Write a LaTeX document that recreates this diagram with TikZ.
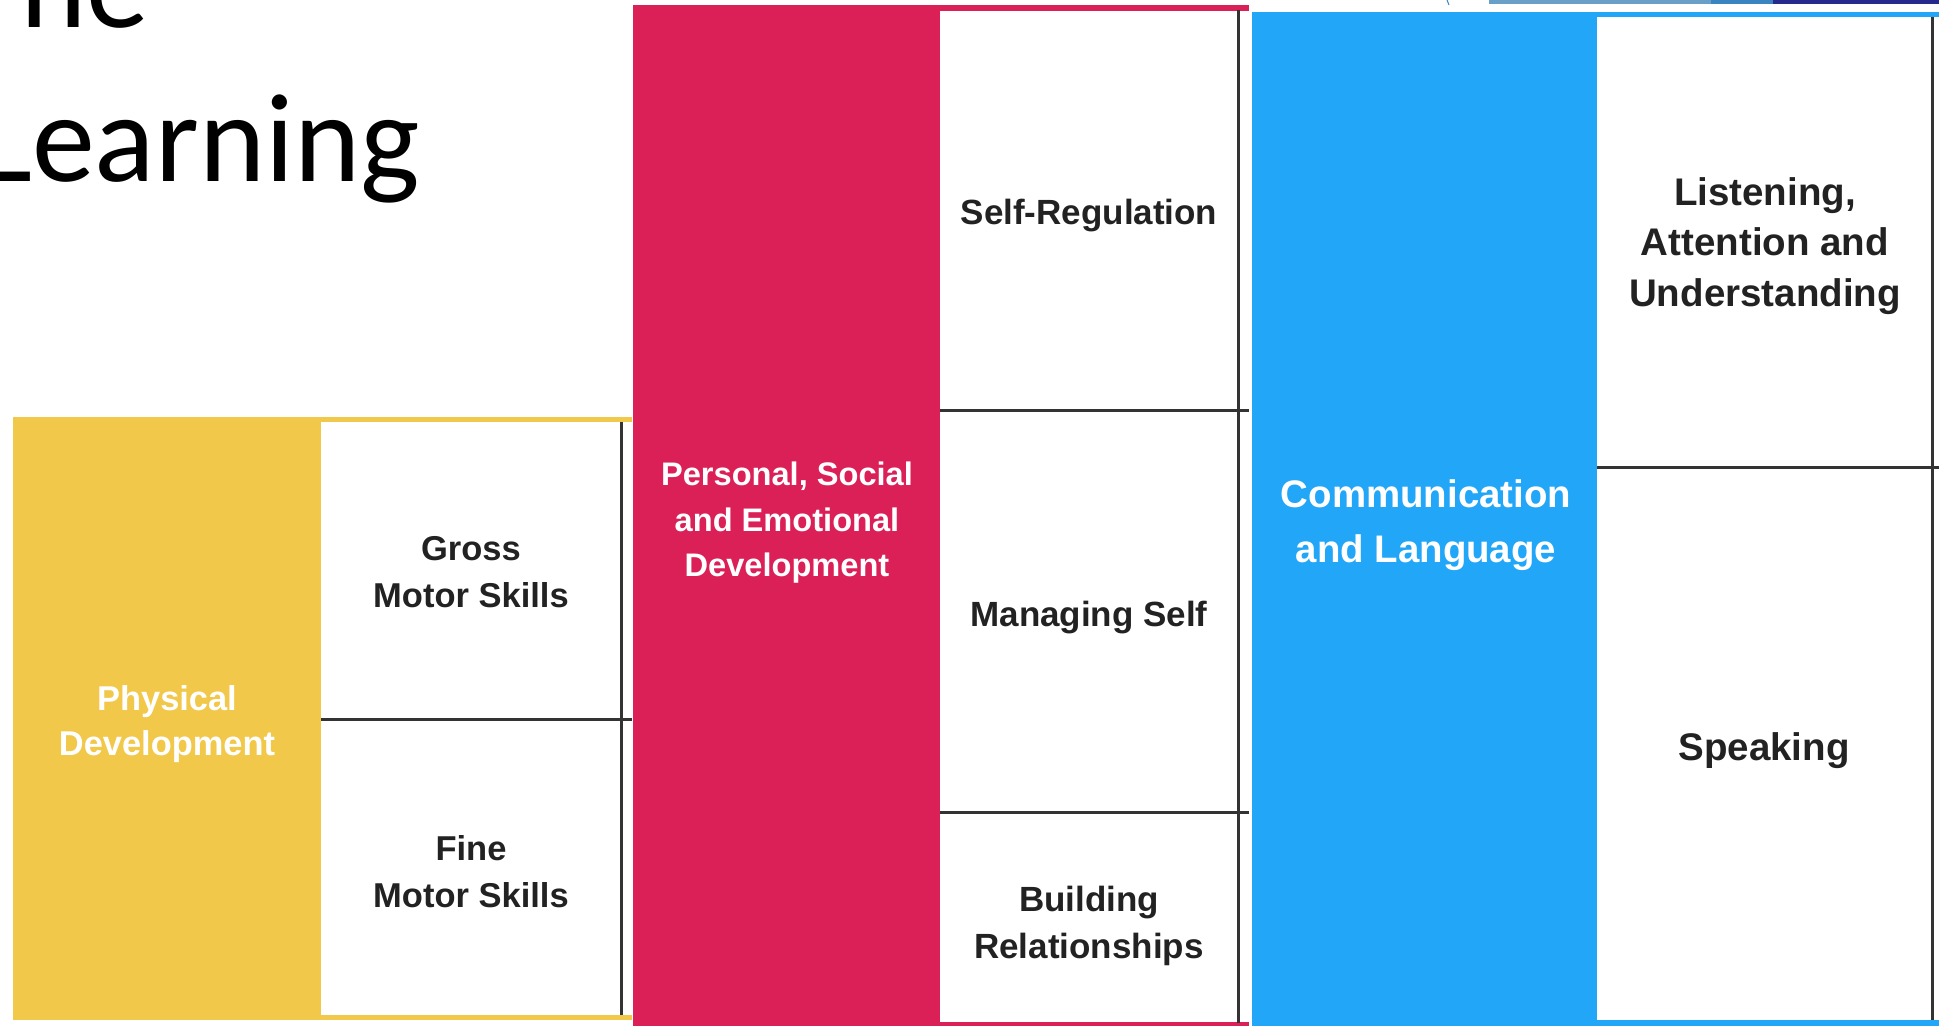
\documentclass[tikz,border=0pt]{standalone}
\usepackage{fontspec}
\setmainfont{Liberation Sans}
\newfontfamily\titlefont{Carlito}
\definecolor{cyellow}{RGB}{242,200,75}
\definecolor{cpink}{RGB}{219,32,88}
\definecolor{cblue}{RGB}{34,166,248}
\definecolor{cline}{RGB}{51,51,51}
\definecolor{ctext}{RGB}{34,34,34}
\definecolor{barA}{RGB}{106,159,200}
\definecolor{barB}{RGB}{58,133,192}
\definecolor{barC}{RGB}{38,42,138}
\tikzset{
  cell/.style={inner sep=0pt, align=center, text=ctext, font=\bfseries},
  cat/.style={inner sep=0pt, align=center, text=white, font=\bfseries},
  divider/.style={draw=cline, line width=3pt},
}
\begin{document}
\begin{tikzpicture}[x=1pt,y=-1pt]
\useasboundingbox (0,0) rectangle (1939,1026);
% title (partly cut off)
\begin{scope}
\clip (0,0) rectangle (1939,1026);
\node[inner sep=0pt, anchor=base west, font=\titlefont\fontsize{126}{150}\selectfont] (t1) at (20,27) {he};
\node[inner sep=0pt, anchor=base west, font=\titlefont\fontsize{126}{150}\selectfont] (t2) at (-21,181) {Learning};
\end{scope}
% top-right decoration bar
\fill[barA] (1489,0) rectangle (1711,4);
\fill[barB] (1711,0) rectangle (1773,4);
\fill[barC] (1773,0) rectangle (1939,4);
\draw[barB, line width=1pt] (1447,0) -- (1449,5);
% ---------- Physical Development ----------
\fill[cyellow] (13,417) rectangle (632,1020);
\fill[white] (321,422) rectangle (632,1015);
\draw[divider] (321,719) -- (632,719);
\draw[divider] (621,422) -- (621,1015);
\node[cat, font=\bfseries\fontsize{34.4}{45}\selectfont] (phys) at (167,724) {Physical\\Development};
\node[cell, font=\bfseries\fontsize{34.5}{47}\selectfont] (gross) at (471,572) {Gross\\Motor Skills};
\node[cell, font=\bfseries\fontsize{34.5}{47}\selectfont] (fine) at (471,872) {Fine\\Motor Skills};
% ---------- Personal, Social and Emotional Development ----------
\fill[cpink] (633,5) rectangle (1249,1026);
\fill[white] (940,11) rectangle (1249,1022);
\draw[divider] (940,410) -- (1249,410);
\draw[divider] (940,812) -- (1249,812);
\draw[divider] (1238,10) -- (1238,1023);
\node[cat, font=\bfseries\fontsize{32.6}{45.5}\selectfont] (pse) at (787,523) {Personal, Social\\and Emotional\\Development};
\node[cell, font=\bfseries\fontsize{35}{47}\selectfont] (selfreg) at (1089,216) {Self-Regulation};
\node[cell, font=\bfseries\fontsize{35}{47}\selectfont] (manage) at (1089,618) {Managing Self};
\node[cell, font=\bfseries\fontsize{35}{47}\selectfont] (build) at (1089,926) {Building\\Relationships};
% ---------- Communication and Language ----------
\fill[cblue] (1252,12) rectangle (1939,1026);
\fill[white] (1597,17) rectangle (1939,1020);
\draw[divider] (1597,467) -- (1939,467);
\draw[divider] (1932,17) -- (1932,1020);
\node[cat, font=\bfseries\fontsize{38.4}{55}\selectfont] (comm) at (1426,525) {Communication\\and Language};
\node[cell, font=\bfseries\fontsize{38.5}{50.5}\selectfont] (listen) at (1765,246) {Listening,\\Attention and\\Understanding};
\node[cell, font=\bfseries\fontsize{38.5}{50.5}\selectfont] (speak) at (1764,751) {Speaking};
\end{tikzpicture}
\end{document}
